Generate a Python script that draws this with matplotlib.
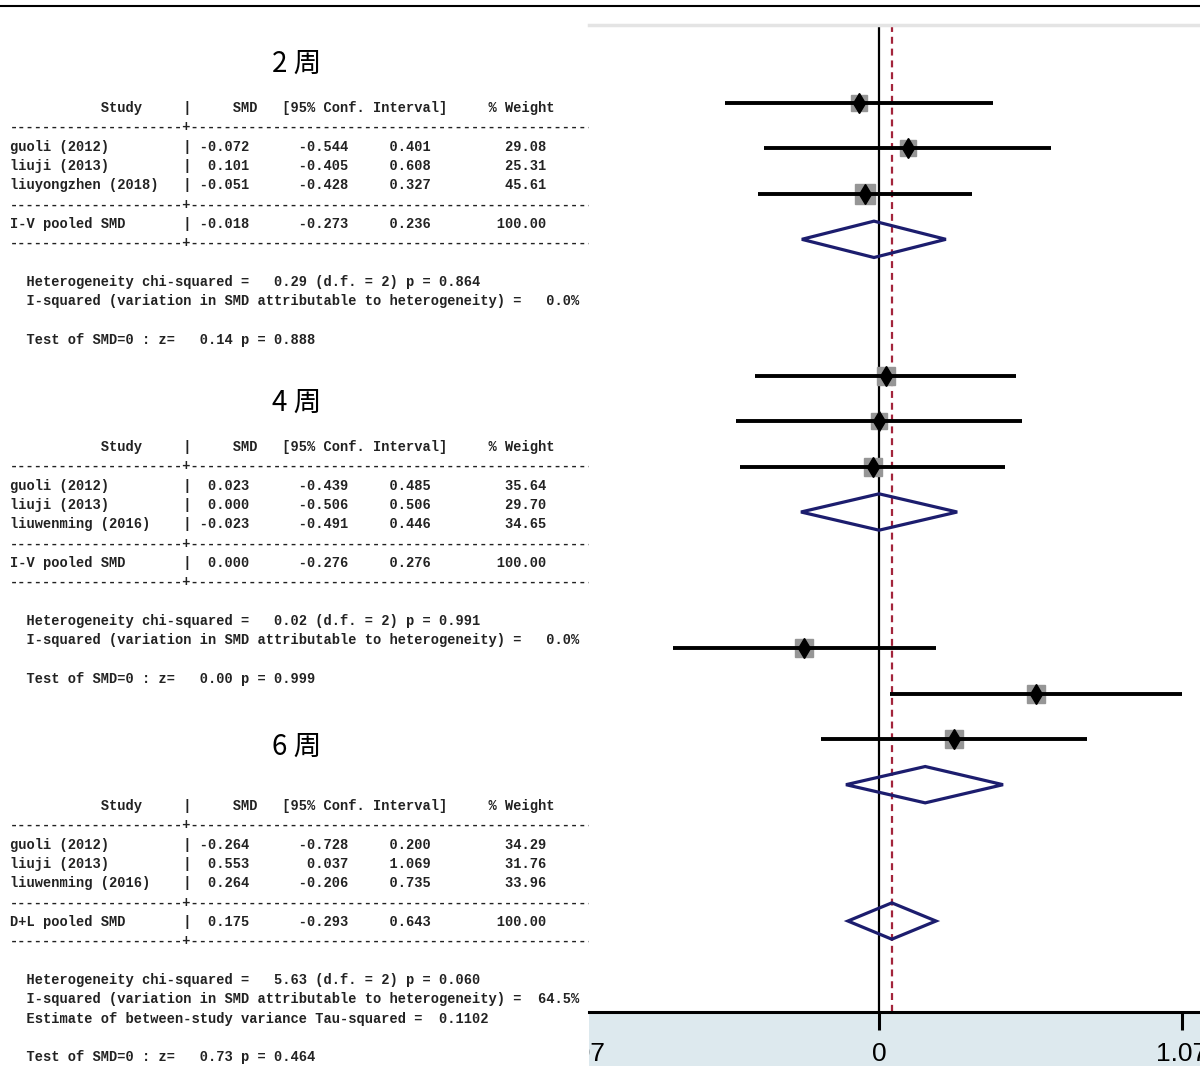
import matplotlib
matplotlib.use("Agg")
import matplotlib.pyplot as plt
from matplotlib.lines import Line2D
from matplotlib.patches import Polygon

plt.rcParams['lines.scale_dashes'] = False

# Stata metan output, three follow-up times
titles = ["2 周", "4 周", "6 周"]
studies = [["guoli (2012)", "liuji (2013)", "liuyongzhen (2018)"],
           ["guoli (2012)", "liuji (2013)", "liuwenming (2016)"],
           ["guoli (2012)", "liuji (2013)", "liuwenming (2016)"]]
smd = [[-0.072, 0.101, -0.051],
       [0.023, 0.000, -0.023],
       [-0.264, 0.553, 0.264]]
ci_lo = [[-0.544, -0.405, -0.428],
         [-0.439, -0.506, -0.491],
         [-0.728, 0.037, -0.206]]
ci_hi = [[0.401, 0.608, 0.327],
         [0.485, 0.506, 0.446],
         [0.200, 1.069, 0.735]]
weight = [[29.08, 25.31, 45.61],
          [35.64, 29.70, 34.65],
          [34.29, 31.76, 33.96]]

pooled_label = ["I-V pooled SMD", "I-V pooled SMD", "D+L pooled SMD"]
pooled_smd = [-0.018, 0.000, 0.175]
pooled_lo = [-0.273, -0.276, -0.293]
pooled_hi = [0.236, 0.276, 0.643]

het_chi2 = [0.29, 0.02, 5.63]
het_df = [2, 2, 2]
het_p = [0.864, 0.991, 0.060]
i_squared = [0.0, 0.0, 64.5]
tau_squared = [None, None, 0.1102]
z_value = [0.14, 0.00, 0.73]
z_p = [0.888, 0.999, 0.464]

# pooled diamonds as drawn in the forest plot (I-V) and the overall estimate
plot_pooled = [(-0.018, -0.273, 0.236), (0.000, -0.276, 0.276), (0.163, -0.117, 0.438)]
overall = (0.045, -0.110, 0.201)

xticks = [-1.07, 0, 1.07]

W, H = 1200, 1066
fig = plt.figure(figsize=(W / 100, H / 100), dpi=100)

# ---- left: text tables ----
axt = fig.add_axes([0, 0, 589 / W, 1])
axt.set_xlim(0, 589)
axt.set_ylim(H, 0)
axt.axis('off')

mono = dict(family='Liberation Mono', size=9.93, weight='bold', color='#222222')
sep = "-" * 21 + "+" + "-" * 52
header = " " * 11 + "Study" + " " * 5 + "|" + " " * 5 + "SMD" + " " * 3 + \
    "[95% Conf. Interval]" + " " * 5 + "% Weight"


def row_text(name, s, lo, hi, w):
    return f"{name:<21}| {s:6.3f}{lo:12.3f}{hi:10.3f}{w:14.2f}"


title_y = [64, 403, 747]
header_y = [108, 447, 806]
dy = 19.33
for g in range(3):
    axt.text(297, title_y[g], titles[g], ha='center', va='center', fontsize=20,
             family=['Noto Sans CJK SC', 'DejaVu Sans'], color='black')
    lines = [header, sep]
    for k in range(3):
        lines.append(row_text(studies[g][k], smd[g][k], ci_lo[g][k], ci_hi[g][k], weight[g][k]))
    lines += [sep, row_text(pooled_label[g], pooled_smd[g], pooled_lo[g], pooled_hi[g], 100.0), sep, ""]
    lines.append(f"  Heterogeneity chi-squared = {het_chi2[g]:6.2f} (d.f. = {het_df[g]}) p = {het_p[g]:.3f}")
    lines.append(f"  I-squared (variation in SMD attributable to heterogeneity) = {i_squared[g]:5.1f}%")
    if tau_squared[g] is not None:
        lines.append(f"  Estimate of between-study variance Tau-squared = {tau_squared[g]:7.4f}")
    lines.append("")
    lines.append(f"  Test of SMD=0 : z= {z_value[g]:6.2f} p = {z_p[g]:.3f}")
    for i, txt in enumerate(lines):
        if txt:
            axt.text(10, header_y[g] + i * dy, txt, ha='left', va='center',
                     clip_on=True, **mono)

# ---- right: forest plot ----
ax = fig.add_axes([589 / W, 0, 1 - 589 / W, 1 - 25 / H])
ax.set_xlim(-1.025, 1.134)
ax.set_ylim(21.19, -1.716)
ax.axhspan(20, 21.19, color='#dde9ee', zorder=0, lw=0)

for s in ['left', 'right']:
    ax.spines[s].set_visible(False)
ax.spines['top'].set_color('#e4e4e4')
ax.spines['top'].set_linewidth(2.5)
ax.spines['bottom'].set_position(('data', 20))
ax.spines['bottom'].set_linewidth(2.2)
ax.set_yticks([])

ax.set_xticks(xticks[1:])
ax.set_xticklabels(['0', '1.07'])
tick_font = ['Liberation Sans Narrow', 'Liberation Sans', 'DejaVu Sans']
ax.tick_params(axis='x', length=13, width=2.2, pad=9, labelsize=19)
for lab in ax.get_xticklabels():
    lab.set_family(tick_font)
ax.annotate('-1.07', xy=(xticks[0], 20), xycoords='data', xytext=(0, -22),
            textcoords='offset points', ha='center', va='top', fontsize=19,
            family=tick_font, annotation_clip=False, clip_on=True)

ax.vlines(0, -1.716, 20, color='black', lw=1.6, zorder=1)
ax.vlines(overall[0], -1.716, 20, color='#a3243b', lw=1.6, linestyles=(0, (5, 3.5)), zorder=1)

for g in range(3):
    base = 6 * g
    for k in range(3):
        r = base + k
        side = 3.1 * weight[g][k] ** 0.5 / 1.389
        ax.plot(smd[g][k], r, marker='s', ms=side, color='#969696', mec='#969696', zorder=2)
        ax.hlines(r, ci_lo[g][k], ci_hi[g][k], color='black', lw=2.8, zorder=3)
        ax.plot(smd[g][k], r, marker='d', ms=10, color='black', zorder=4)
    est, lo, hi = plot_pooled[g]
    r = base + 3
    ax.add_patch(Polygon([(lo, r), (est, r - 0.4), (hi, r), (est, r + 0.4)], closed=True,
                         fill=False, edgecolor='#1c1d6e', lw=2.3, joinstyle='miter', zorder=3))

est, lo, hi = overall
ax.add_patch(Polygon([(lo, 18), (est, 17.6), (hi, 18), (est, 18.4)], closed=True,
                     fill=False, edgecolor='#1c1d6e', lw=2.3, joinstyle='miter', zorder=3))

fig.add_artist(Line2D([0, 1], [1 - 6 / H] * 2, transform=fig.transFigure, color='black', lw=1.5))

fig.savefig('out.png', dpi=100)
